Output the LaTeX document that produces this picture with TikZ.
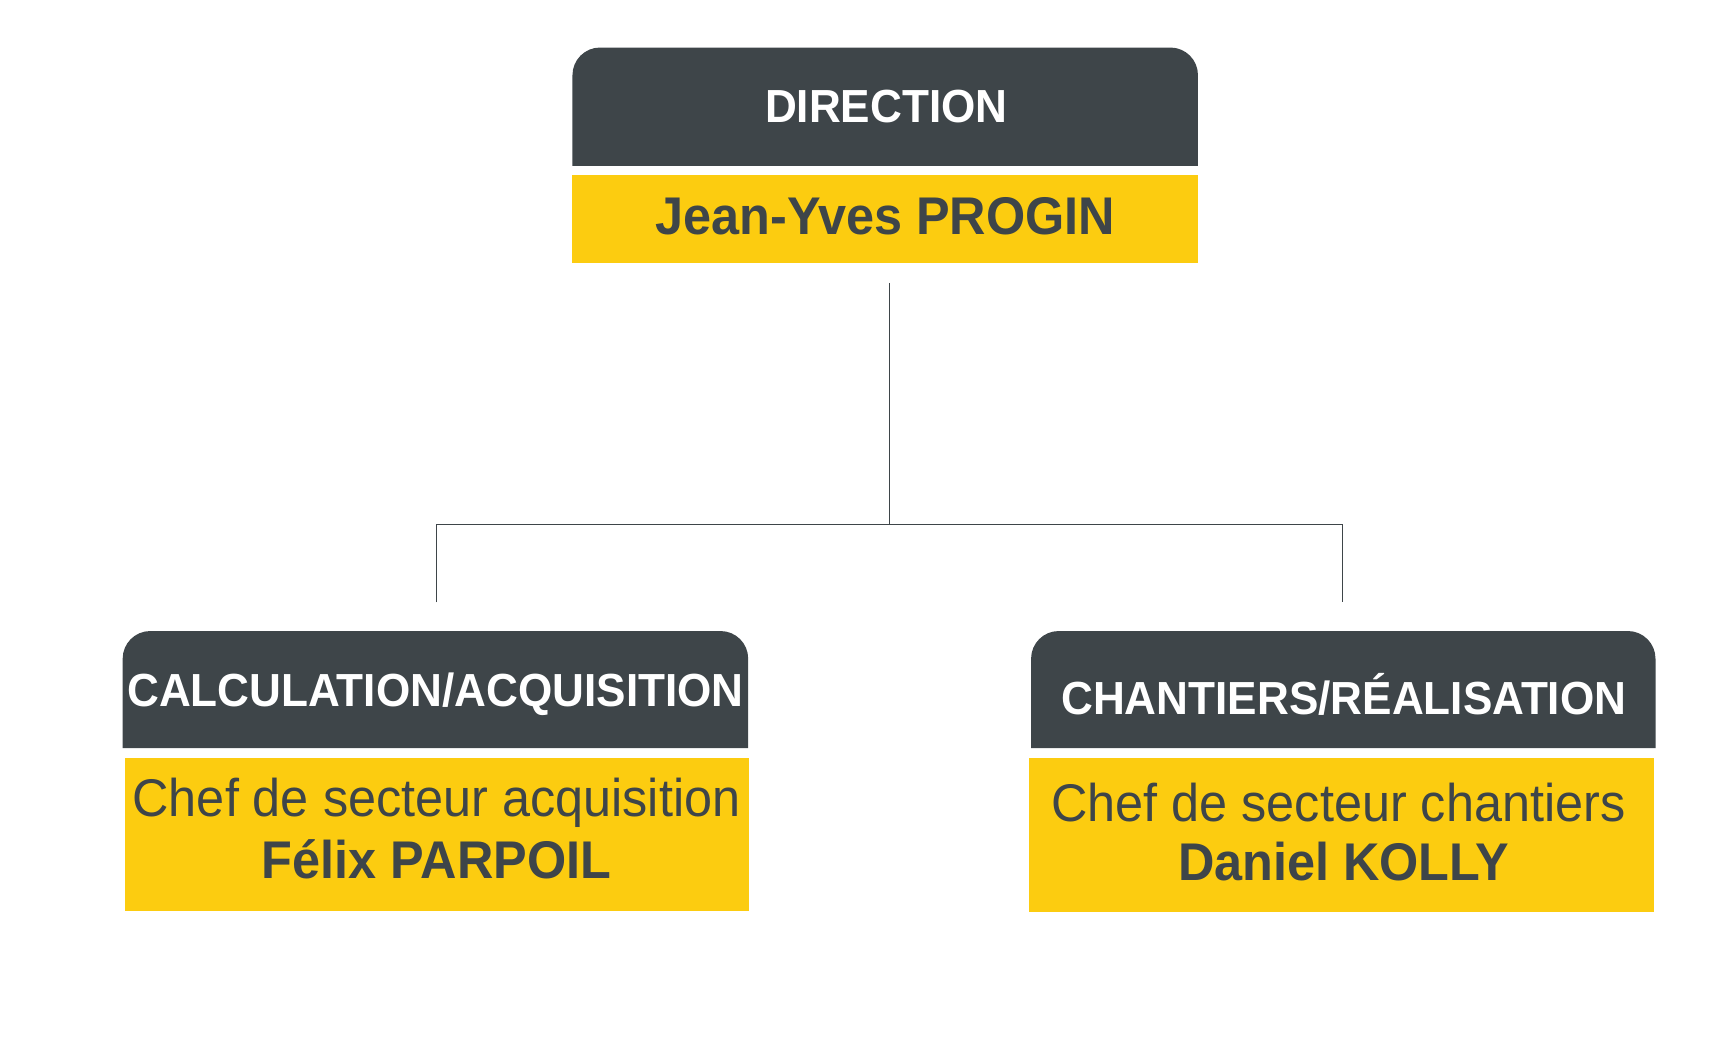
\documentclass[tikz,border=0pt]{standalone}
\usepackage{fontspec}
\setmainfont{Liberation Sans}[FakeStretch=0.95]
\definecolor{dk}{HTML}{3E4549}
\definecolor{yl}{HTML}{FCCC10}
\begin{document}
\begin{tikzpicture}[x=1pt,y=-1pt,
 ht/.style={text=white,font=\fontsize{42}{46}\selectfont\bfseries},
 nt/.style={text=dk,font=\fontsize{48}{52}\selectfont\bfseries},
 rt/.style={text=dk,font=\fontsize{48}{52}\selectfont},
 ln/.style={draw=dk,line width=1pt}]
\useasboundingbox (0,0) rectangle (1560,941);
% direction
\fill[dk] (518,150) [rounded corners=25pt]-- (518,43) -- (1084,43) [sharp corners]-- (1084,150) -- cycle;
\fill[yl] (518,158) rectangle (1084,238);
\node[ht] (d) at (802,96) {DIRECTION};
\node[nt] (dn) at (801,196) {Jean-Yves PROGIN};
% left
\fill[dk] (111,677) [rounded corners=25pt]-- (111,571) -- (677,571) [sharp corners]-- (677,677) -- cycle;
\fill[yl] (113,686) rectangle (678,824);
\node[ht] (l) at (394,628) {CALCULATION/ACQUISITION};
\node[rt] (l1) at (395,726) {Chef de secteur acquisition};
\node[nt] (l2) at (395,778) {Félix PARPOIL};
% right
\fill[dk] (933,677) [rounded corners=25pt]-- (933,571) -- (1498,571) [sharp corners]-- (1498,677) -- cycle;
\fill[yl] (931,686) rectangle (1497,825);
\node[ht] (r) at (1216,628) {CHANTIERS/RÉALISATION};
\node[rt] (r1) at (1211,726) {Chef de secteur chantiers};
\node[nt] (r2) at (1216,780) {Daniel KOLLY};
% connectors
\coordinate (top) at (805,256);
\coordinate (mid) at (805,475);
\coordinate (la) at (395,475);
\coordinate (lb) at (395,545);
\coordinate (ra) at (1215,475);
\coordinate (rb) at (1215,545);
\draw[ln] (top) -- (mid);
\draw[ln] (lb) -- (la) -- (ra) -- (rb);
\end{tikzpicture}
\end{document}
